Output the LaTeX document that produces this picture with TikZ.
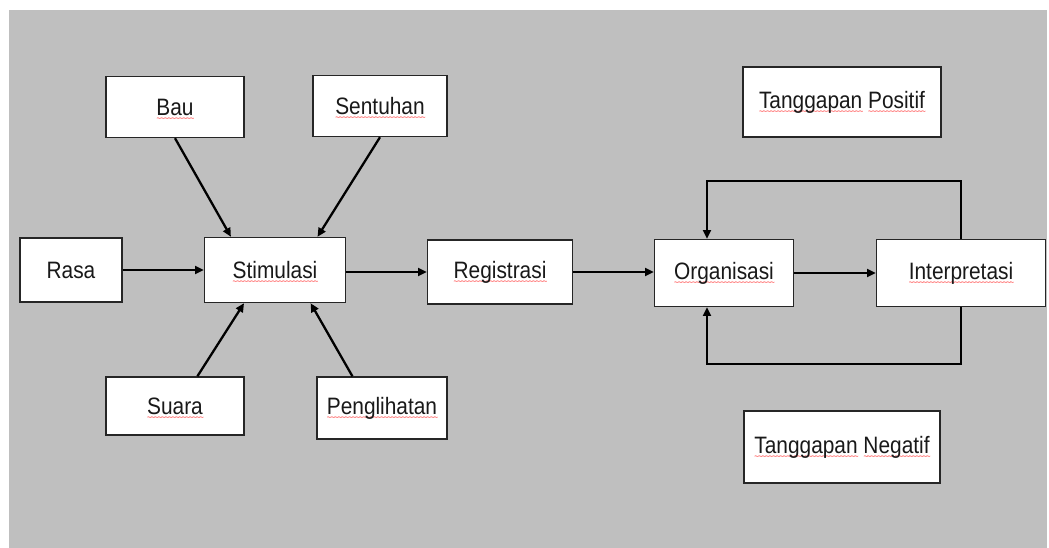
\documentclass[tikz,border=0pt]{standalone}
\usepackage{fontspec}
\usetikzlibrary{arrows.meta}
\newfontfamily\boxfont{Liberation Sans}[FakeStretch=0.88]
\definecolor{latar}{HTML}{BFBFBF}
\newcommand\salah[1]{\setbox0\hbox{#1}\rlap{\raisebox{-3.6pt}[0pt][0pt]{\color{red!80}\fontsize{5}{5}\selectfont\hbox to\wd0{\xleaders\hbox{\textasciitilde\kern-0.12em}\hfil}}}\box0\relax}
\tikzset{
	every box/.style={
		draw=black!85,
		line width=0.8pt,
		fill=white,
		inner sep=0pt,
		text=black!90,
		font=\boxfont\fontsize{13.5}{16}\selectfont
	},
	every link/.style={
		line width=1.3pt,
		-{Triangle[length=5pt,width=4.5pt]}
	},
}
\begin{document}
\begin{tikzpicture}[x=0.02cm, y=-0.02cm]

\useasboundingbox (0,0) rectangle (1049,548);
\fill [white] (0,0) rectangle (1049,548);
\fill [latar] (9,10) rectangle (1047,548);

\foreach \n/\l/\x/\y/\w/\h in {
	rasa/Rasa/71/270/102/64,
	bau/\salah{Bau}/175/107/138/61,
	sentuhan/\salah{Sentuhan}/380/106/134/61,
	stimulasi/\salah{Stimulasi}/275/270/141/65,
	suara/\salah{Suara}/175/406/138/58,
	penglihatan/\salah{Penglihatan}/382/408/130/62,
	registrasi/\salah{Registrasi}/500/272/145/64,
	organisasi/\salah{Organisasi}/724/273/139/67,
	interpretasi/\salah{Interpretasi}/961/273/169/67,
	positif/\salah{Tanggapan} \salah{Positif}/842/102/198/70,
	negatif/\salah{Tanggapan} \salah{Negatif}/842/447/196/72}
	\node [every box/.try, minimum width=\w*0.02cm, minimum height=\h*0.02cm] (\n) at (\x,\y) {\l};

\draw [every link] (rasa) -- (rasa -| stimulasi.west);
\draw [every link] (bau.south) -- (stimulasi.143);
\draw [every link] (sentuhan.south) -- (stimulasi.38);
\draw [every link] (suara.53) -- (stimulasi.227);
\draw [every link] (penglihatan.133) -- (stimulasi.-43);

\draw [every link] (registrasi -| stimulasi.east) -- (registrasi.west);
\draw [every link] (registrasi) -- (registrasi -| organisasi.west);
\draw [every link] (organisasi) -- (interpretasi);

\draw [every link] (interpretasi.north) -- ++(0,-58) -| ([xshift=-0.34cm]organisasi.north);
\draw [every link] (interpretasi.south) -- ++(0,57) -| ([xshift=-0.34cm]organisasi.south);

\end{tikzpicture}
\end{document}
